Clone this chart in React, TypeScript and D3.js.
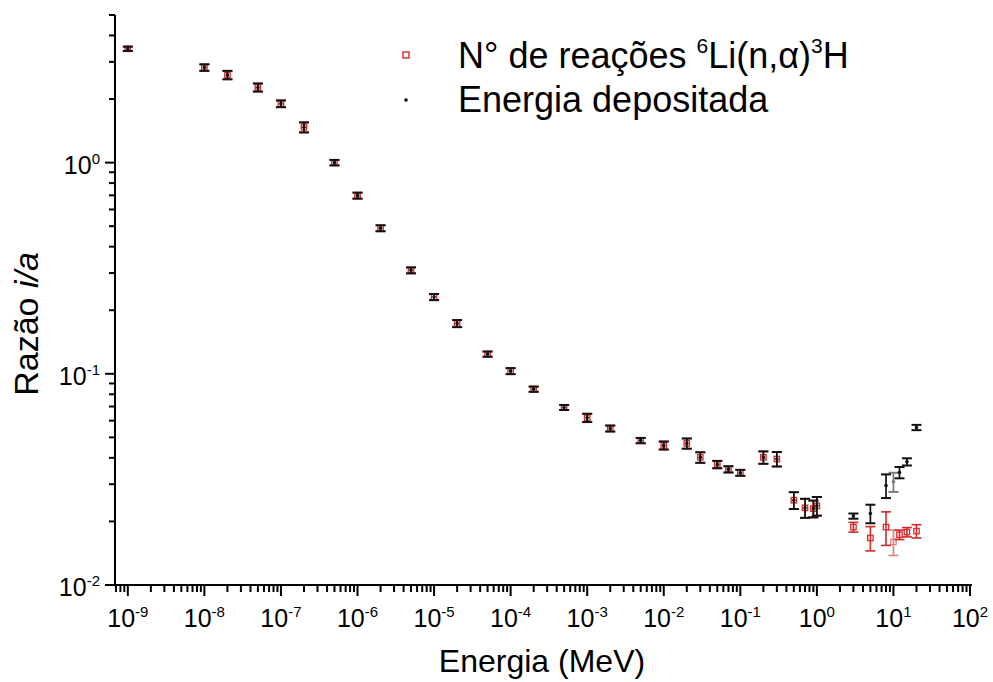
import React from "react";
import * as d3 from "d3";

// Energy (MeV) of each point
const energies = [
  1e-9, 1e-8, 2e-8, 5e-8, 1e-7, 2e-7, 5e-7, 1e-6, 2e-6, 5e-6, 1e-5, 2e-5, 5e-5,
  1e-4, 2e-4, 5e-4, 1e-3, 2e-3, 5e-3, 1e-2, 2e-2, 3e-2, 5e-2, 7e-2, 1e-1, 2e-1,
  3e-1, 5e-1, 7e-1, 9e-1, 1, 3, 5, 8, 10, 12, 15, 20,
];

// Nº de reações 6Li(n,α)3H (red hollow squares)
const ratioReactions = [
  3.46, 2.82, 2.6, 2.27, 1.9, 1.47, 1.0, 0.698, 0.489, 0.309, 0.231, 0.173, 0.124,
  0.103, 0.0846, 0.0693, 0.0619, 0.0551, 0.0483, 0.0458, 0.0468, 0.0402, 0.0372,
  0.0353, 0.034, 0.0402, 0.0395, 0.0252, 0.0232, 0.023, 0.0237, 0.0188, 0.0167,
  0.0188, 0.016, 0.0173, 0.0178, 0.018,
];
const errReactions = [
  0.08, 0.1, 0.12, 0.1, 0.07, 0.08, 0.03, 0.023, 0.016, 0.01, 0.0077, 0.0067,
  0.0035, 0.0034, 0.0024, 0.0019, 0.0028, 0.0018, 0.0014, 0.002, 0.0026, 0.0023,
  0.0015, 0.0012, 0.0011, 0.0027, 0.0031, 0.0023, 0.0024, 0.0021, 0.0024, 0.001,
  0.0022, 0.0034, 0.0022, 0.0009, 0.0009, 0.0013,
];

// Energia depositada (black dots)
const ratioEnergy = [
  3.46, 2.82, 2.6, 2.27, 1.9, 1.47, 1.0, 0.698, 0.489, 0.309, 0.231, 0.173, 0.124,
  0.103, 0.0846, 0.0693, 0.0619, 0.0551, 0.0483, 0.0458, 0.0468, 0.0402, 0.0372,
  0.0353, 0.034, 0.0402, 0.0395, 0.0252, 0.0232, 0.023, 0.0237, 0.0212, 0.0218,
  0.0296, 0.0308, 0.0341, 0.0383, 0.0557,
];
const errEnergy = [
  0.08, 0.1, 0.12, 0.1, 0.07, 0.08, 0.03, 0.023, 0.016, 0.01, 0.0077, 0.0067,
  0.0035, 0.0034, 0.0024, 0.0019, 0.0028, 0.0018, 0.0014, 0.002, 0.0026, 0.0023,
  0.0015, 0.0012, 0.0011, 0.0027, 0.0031, 0.0023, 0.0024, 0.0021, 0.0024, 0.0006,
  0.0022, 0.0038, 0.0032, 0.0021, 0.0015, 0.0016,
];

// energy whose point is drawn paler in the original figure
const fadedEnergies = [10];

const xTickExponents = [-9, -8, -7, -6, -5, -4, -3, -2, -1, 0, 1, 2];
const yTickExponents = [-2, -1, 0];

const RED = "#d42a2a";
const BLACK = "#111";
const FONT = "'Liberation Sans', Arial, sans-serif";

export default function App() {
  const W = 993;
  const H = 682;
  const x = d3.scaleLog().domain([6.8e-10, 100]).range([115, 970]);
  const y = d3.scaleLog().domain([0.01, 5]).range([585, 15]);
  const [x0, x1] = x.range();
  const [yb, yt] = y.range();

  const minorX: number[] = [];
  for (let k = -10; k <= 1; k++) {
    for (let m = 2; m <= 9; m++) {
      const v = m * Math.pow(10, k);
      if (v >= x.domain()[0] && v <= x.domain()[1]) minorX.push(v);
    }
  }
  const minorY: number[] = [];
  for (let k = -2; k <= 0; k++) {
    for (let m = 2; m <= 9; m++) {
      const v = m * Math.pow(10, k);
      if (v >= y.domain()[0] && v <= y.domain()[1]) minorY.push(v);
    }
  }

  const capW = 5;
  const faded = (e: number) => fadedEnergies.includes(e);

  return (
    <svg
      width={W}
      height={H}
      style={{ position: "absolute", left: 0, top: 0, background: "#fff" }}
      fontFamily={FONT}
    >
      <rect width={W} height={H} fill="#fff" />
      {/* axes */}
      <g stroke="#000" strokeWidth={2} fill="none">
        <line x1={x0} y1={yb} x2={x1 + 2} y2={yb} />
        <line x1={x0} y1={yb + 1} x2={x0} y2={yt} />
        {xTickExponents.map((e) => (
          <line key={"xt" + e} x1={x(Math.pow(10, e))} x2={x(Math.pow(10, e))} y1={yb} y2={yb + 11} />
        ))}
        {minorX.map((v, i) => (
          <line key={"xm" + i} x1={x(v)} x2={x(v)} y1={yb} y2={yb + 7} />
        ))}
        {yTickExponents.map((e) => (
          <line key={"yt" + e} x1={x0 - 10} x2={x0} y1={y(Math.pow(10, e))} y2={y(Math.pow(10, e))} />
        ))}
        {minorY.map((v, i) => (
          <line key={"ym" + i} x1={x0 - 6} x2={x0} y1={y(v)} y2={y(v)} />
        ))}
      </g>
      {/* tick labels */}
      {xTickExponents.map((e) => (
        <text key={"xl" + e} x={x(Math.pow(10, e))} y={627} textAnchor="middle" fontSize={25} fill="#000">
          <tspan>10</tspan>
          <tspan fontSize={15} dy={-10}>{String(e)}</tspan>
        </text>
      ))}
      {yTickExponents.map((e) => (
        <text key={"yl" + e} x={100} y={y(Math.pow(10, e)) + 11} textAnchor="end" fontSize={25} fill="#000">
          <tspan>10</tspan>
          <tspan fontSize={15} dy={-10}>{String(e)}</tspan>
        </text>
      ))}
      {/* axis titles */}
      <text x={542} y={672} textAnchor="middle" fontSize={32} fill="#000">
        Energia (MeV)
      </text>
      <text
        transform={`translate(38, 324) rotate(-90)`}
        textAnchor="middle"
        fontSize={34}
        fill="#000"
      >
        Razão <tspan fontStyle="italic">i/a</tspan>
      </text>

      {/* red series: error bars + hollow squares */}
      <g stroke={RED} strokeWidth={1.6} fill="none">
        {energies.map((e, i) => {
          const cx = x(e);
          const lo = y(ratioReactions[i] - errReactions[i]);
          const hi = y(ratioReactions[i] + errReactions[i]);
          return (
            <g key={"re" + i} opacity={faded(e) ? 0.6 : 1}>
              <line x1={cx} x2={cx} y1={lo} y2={hi} />
              <line x1={cx - capW} x2={cx + capW} y1={lo} y2={lo} />
              <line x1={cx - capW} x2={cx + capW} y1={hi} y2={hi} />
              <rect x={cx - 2.7} y={y(ratioReactions[i]) - 2.7} width={5.4} height={5.4} strokeWidth={1.3} />
            </g>
          );
        })}
      </g>
      {/* black series: error bars + dots */}
      <g stroke={BLACK} strokeWidth={1.7} fill="none">
        {energies.map((e, i) => {
          const cx = x(e);
          const lo = y(ratioEnergy[i] - errEnergy[i]);
          const hi = y(ratioEnergy[i] + errEnergy[i]);
          return (
            <g key={"be" + i} opacity={faded(e) ? 0.55 : 1}>
              <line x1={cx} x2={cx} y1={lo} y2={hi} />
              <line x1={cx - capW} x2={cx + capW} y1={lo} y2={lo} strokeWidth={2} />
              <line x1={cx - capW} x2={cx + capW} y1={hi} y2={hi} strokeWidth={2} />
              <circle cx={cx} cy={y(ratioEnergy[i])} r={1.8} fill={BLACK} stroke="none" />
            </g>
          );
        })}
      </g>

      {/* legend */}
      <rect x={403} y={52} width={6} height={6} fill="none" stroke={RED} strokeWidth={1.4} />
      <text x={458} y={68} fontSize={36} fill="#000">
        N° de reações <tspan fontSize={21} dy={-15}>6</tspan>
        <tspan dy={15}>Li(n,α)</tspan>
        <tspan fontSize={21} dy={-15}>3</tspan>
        <tspan dy={15}>H</tspan>
      </text>
      <circle cx={406} cy={100} r={1.8} fill={BLACK} />
      <text x={458} y={112} fontSize={36} fill="#000">
        Energia depositada
      </text>
    </svg>
  );
}
